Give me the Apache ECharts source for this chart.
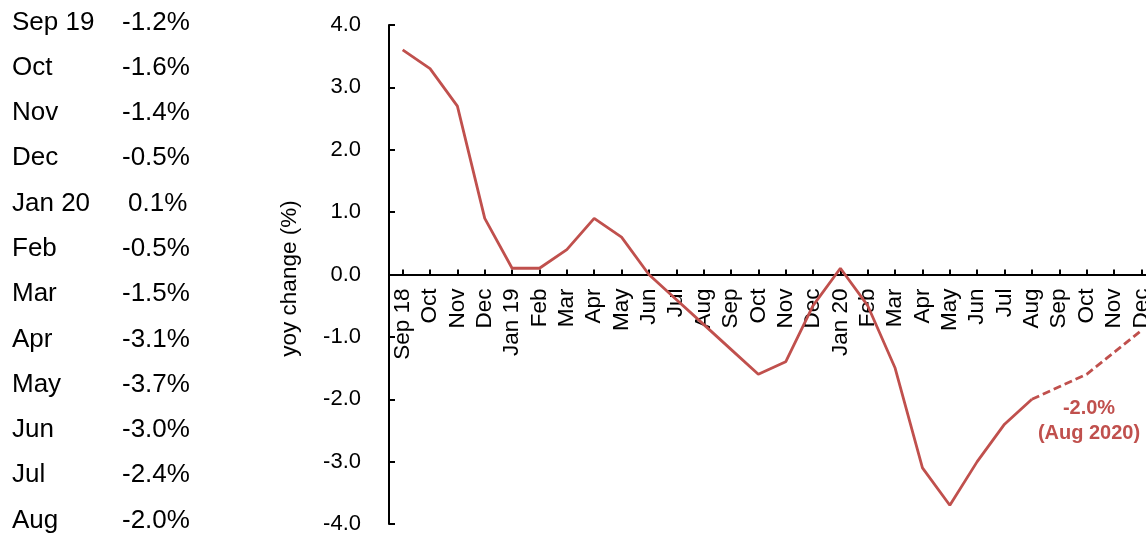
<!DOCTYPE html>
<html>
<head>
<meta charset="utf-8">
<script src="https://cdn.jsdelivr.net/npm/echarts@6/dist/echarts.min.js"></script>
<style>
html,body{margin:0;padding:0;background:#fff;}
#chart{width:1146px;height:535px;}
</style>
</head>
<body>
<div id="chart"></div>
<script>
// Category labels (Sep 2018 - Dec 2020)
var categories = ["Sep 18","Oct","Nov","Dec","Jan 19","Feb","Mar","Apr","May","Jun","Jul","Aug","Sep","Oct","Nov","Dec","Jan 20","Feb","Mar","Apr","May","Jun","Jul","Aug","Sep","Oct","Nov","Dec"];
// Actual yoy change (%), Sep 2018 - Aug 2020
var actualValues = [3.6,3.3,2.7,0.9,0.1,0.1,0.4,0.9,0.6,0.0,-0.4,-0.8,-1.2,-1.6,-1.4,-0.5,0.1,-0.5,-1.5,-3.1,-3.7,-3.0,-2.4,-2.0];
// Projection, Aug 2020 - Dec 2020
var forecastValues = [-2.0,-1.8,-1.6,-1.25,-0.9];
// Side table
var tableMonths = ["Sep 19","Oct","Nov","Dec","Jan 20","Feb","Mar","Apr","May","Jun","Jul","Aug"];
var tableValues = ["-1.2%","-1.6%","-1.4%","-0.5%","0.1%","-0.5%","-1.5%","-3.1%","-3.7%","-3.0%","-2.4%","-2.0%"];
var yTicks = {min:-4, max:4, interval:1};
var annotationLines = ["-2.0%","(Aug 2020)"];
var yAxisName = "yoy change (%)";

var RED = "#C0504D";
var FONT = "'Liberation Sans', Arial, sans-serif";

var actualSeries = categories.map(function(c,i){ return i < actualValues.length ? actualValues[i] : null; });
var fStart = actualValues.length - 1;
var forecastSeries = categories.map(function(c,i){ var k = i - fStart; return (k >= 0 && k < forecastValues.length) ? forecastValues[k] : null; });

var GRID_TOP = 25, GRID_BOTTOM = 11, H = 535;
var plotH = H - GRID_TOP - GRID_BOTTOM;
// shift the category axis (line, ticks, labels) up to the zero line
var zeroFromBottom = plotH * (0 - yTicks.min) / (yTicks.max - yTicks.min);

var graphics = [];
tableMonths.forEach(function(m,i){
  var y = 23.5 + i*45.27;
  graphics.push({type:'text', left:12, top:y-14, style:{text:m, font:"26px "+FONT, fill:'#000'}});
  var v = tableValues[i];
  var x = v.charAt(0)==='-' ? 122 : 128;
  graphics.push({type:'text', left:x, top:y-14, style:{text:v, font:"26px "+FONT, fill:'#000'}});
});
graphics.push({type:'text', x:1089, y:396, style:{text:annotationLines.join('\n'), font:"bold 20px "+FONT, fill:RED, textAlign:'center', lineHeight:25}});

var chart = echarts.init(document.getElementById('chart'), null, {renderer:'canvas'});
chart.setOption({
  animation:false,
  backgroundColor:'#fff',
  grid:{left:389, right:-9, top:GRID_TOP, bottom:GRID_BOTTOM, containLabel:false, outerBoundsMode:'none'},
  xAxis:{
    type:'category', data:categories, boundaryGap:true, position:'bottom',
    offset:-zeroFromBottom,
    axisLine:{onZero:false, lineStyle:{color:'#000', width:2}},
    axisTick:{show:true, inside:true, alignWithLabel:true, length:5, lineStyle:{color:'#000', width:2}},
    axisLabel:{interval:0, rotate:90, margin:14, color:'#000', fontSize:22.5, fontFamily:FONT},
    splitLine:{show:false}
  },
  yAxis:{
    type:'value', min:yTicks.min, max:yTicks.max, interval:yTicks.interval,
    name:yAxisName, nameLocation:'middle', nameGap:88, nameRotate:90,
    nameTextStyle:{color:'#000', fontSize:22.5, fontFamily:FONT, padding:[0,8,0,0]},
    axisLine:{show:true, onZero:false, lineStyle:{color:'#000', width:2}},
    axisTick:{show:true, inside:true, length:6, lineStyle:{color:'#000', width:2}},
    axisLabel:{color:'#000', fontSize:22, fontFamily:FONT, margin:28, formatter:function(v){return v.toFixed(1);}},
    splitLine:{show:false}
  },
  series:[
    {type:'line', data:actualSeries, symbol:'none', connectNulls:false, lineStyle:{color:RED, width:2.8}, itemStyle:{color:RED}, z:3},
    {type:'line', data:forecastSeries, symbol:'none', connectNulls:false, lineStyle:{color:RED, width:2.8, type:[8,4]}, itemStyle:{color:RED}, z:3}
  ],
  graphic:graphics
});
</script>
</body>
</html>
